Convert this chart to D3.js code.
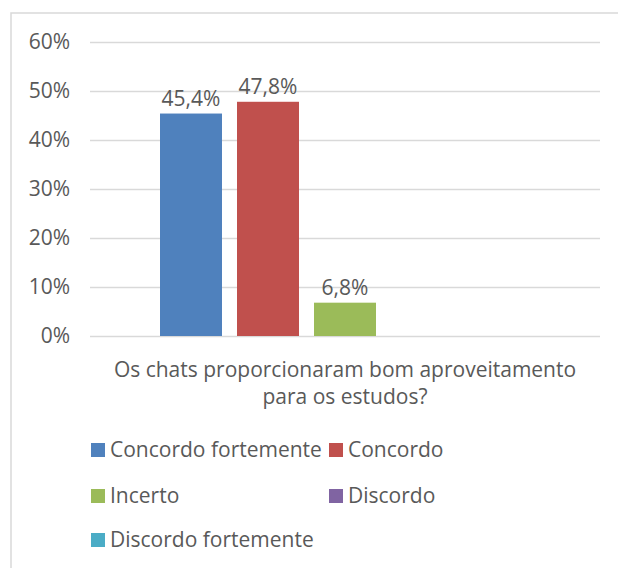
<html>
<head>
<script src="https://d3js.org/d3.v7.min.js"></script>
<style>
  html, body { margin: 0; background: #fff; overflow: hidden; }
  svg { display: block; }
  svg text { font-family: "Open Sans", sans-serif; fill: #595959; }
  .gridlines line { stroke: #d9d9d9; stroke-width: 1.5; }
  .gridlines .domain { stroke: none; }
</style>
</head>
<body>
<div id="chart"></div>
<script>
const categories = ["Os chats proporcionaram bom aproveitamento|para os estudos?"];
const series = ["Concordo fortemente", "Concordo", "Incerto", "Discordo", "Discordo fortemente"];
const values = [0.454, 0.478, 0.068, 0, 0];
const valueLabels = ["45,4%", "47,8%", "6,8%", "", ""];
const colors = ["#4F81BD", "#C0504D", "#9BBB59", "#8064A2", "#4BACC6"];
const yTicks = [0, 0.1, 0.2, 0.3, 0.4, 0.5, 0.6];

const svg = d3.select('#chart').append('svg')
    .attr('width', 618)
    .attr('height', 568);

// chart frame: only top and left edges are inside the picture
svg.append('path')
    .attr('d', 'M11,568V13H618')
    .attr('fill', 'none')
    .attr('stroke', '#d9d9d9')
    .attr('stroke-width', 1.5);

const margins = { left: 90, right: 18, top: 42, bottom: 232 };
const chartWidth = 618 - margins.left - margins.right;
const yScale = d3.scaleLinear().domain([0, 0.6]).range([336, 42]);

const x0 = d3.scaleBand().domain(categories).range([margins.left, margins.left + chartWidth]);
const x1 = d3.scaleBand().domain(series).range([70, 440]).paddingInner(0.195);

let gridlines = d3.axisLeft(yScale)
    .tickValues(yTicks)
    .tickSize(-chartWidth)
    .tickFormat('');
svg.append('g')
    .attr('class', 'gridlines')
    .attr('transform', `translate(${margins.left},0)`)
    .call(gridlines);

// y tick labels
svg.append('g').selectAll('text')
    .data(yTicks)
    .join('text')
    .attr('x', 70)
    .attr('y', d => yScale(d))
    .attr('dy', '0.35em')
    .attr('text-anchor', 'end')
    .attr('font-size', 21)
    .text(d => Math.round(d * 100) + '%');

const group = svg.append('g')
    .attr('transform', `translate(${x0(categories[0])},0)`);

group.selectAll('rect')
    .data(series)
    .join('rect')
    .attr('x', d => x1(d))
    .attr('y', (d, i) => yScale(values[i]))
    .attr('width', x1.bandwidth())
    .attr('height', (d, i) => yScale(0) - yScale(values[i]))
    .attr('fill', (d, i) => colors[i]);

group.selectAll('text.lbl')
    .data(series)
    .join('text')
    .attr('class', 'lbl')
    .attr('x', d => x1(d) + x1.bandwidth() / 2)
    .attr('y', (d, i) => yScale(values[i]) - 8)
    .attr('text-anchor', 'middle')
    .attr('font-size', 21)
    .text((d, i) => valueLabels[i]);

// category label
const catLines = categories[0].split('|');
svg.append('g').selectAll('text')
    .data(catLines)
    .join('text')
    .attr('x', x0(categories[0]) + x0.bandwidth() / 2)
    .attr('y', (d, i) => 377 + i * 27)
    .attr('text-anchor', 'middle')
    .attr('font-size', 21)
    .text(d => d);

// legend
const legendPos = [[91, 450], [329, 450], [91, 496], [329, 496], [91, 540]];
const legend = svg.append('g').selectAll('g')
    .data(series)
    .join('g')
    .attr('transform', (d, i) => `translate(${legendPos[i][0]},${legendPos[i][1]})`);

legend.append('rect')
    .attr('x', 0).attr('y', -7)
    .attr('width', 14).attr('height', 14)
    .attr('fill', (d, i) => colors[i]);

legend.append('text')
    .attr('x', 19)
    .attr('dy', '0.35em')
    .attr('font-size', 21)
    .text(d => d);
</script>
</body>
</html>
